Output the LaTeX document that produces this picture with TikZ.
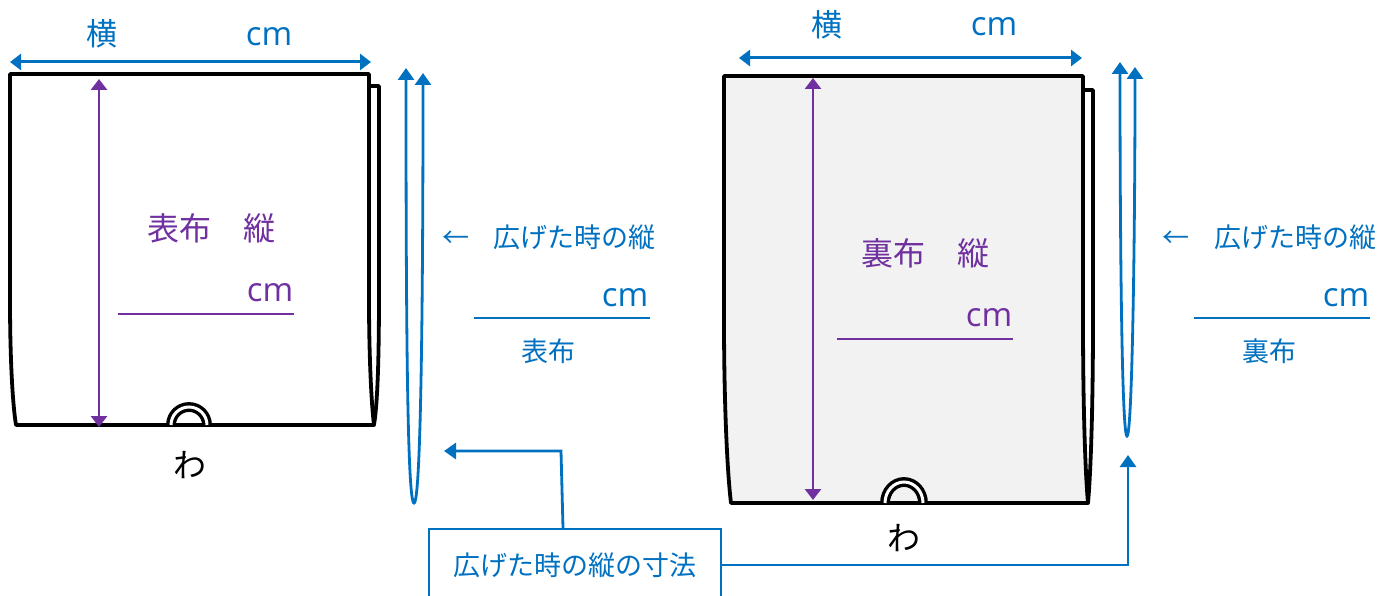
\documentclass[tikz,border=0pt]{standalone}
\usepackage{fontspec}
\setmainfont{Open Sans}
\newfontfamily\jpfont{Noto Sans CJK JP}
\usetikzlibrary{arrows.meta}
\definecolor{tagblue}{HTML}{0070C0}
\definecolor{tagpurple}{HTML}{7030A0}
\definecolor{backgray}{HTML}{F2F2F2}
\tikzset{
  bluetext/.style={text=tagblue,inner sep=0pt,font=\jpfont\fontsize{27}{27}\selectfont},
  purpletext/.style={text=tagpurple,inner sep=0pt,font=\jpfont\fontsize{32}{32}\selectfont},
  blueunit/.style={text=tagblue,inner sep=0pt,font=\fontsize{33}{33}\selectfont},
  purpleunit/.style={text=tagpurple,inner sep=0pt,font=\fontsize{33}{33}\selectfont},
  watext/.style={text=black,inner sep=0pt,font=\jpfont\fontsize{33}{33}\selectfont},
  bluearrow/.style={draw=tagblue,line width=2.8pt,-{Triangle[length=12pt,width=16pt]}},
  bluedouble/.style={draw=tagblue,line width=3pt,{Triangle[length=11pt,width=16pt]}-{Triangle[length=11pt,width=16pt]}},
  purpledouble/.style={draw=tagpurple,line width=2.8pt,{Triangle[length=11pt,width=16pt]}-{Triangle[length=11pt,width=16pt]}},
  bagline/.style={draw=black,line width=3.8pt,line join=round},
  waloop/.style={draw=black,line width=3.4pt,double=white,double distance=3pt},
  foldline/.style={draw=tagblue,line width=2.8pt,{Triangle[length=12pt,width=16pt]}-{Triangle[length=12pt,width=16pt]}},
  underbar/.style={line width=1.8pt}
}
\begin{document}
\begin{tikzpicture}[x=1pt,y=-1pt]
\useasboundingbox (0,0) rectangle (1392,596);
% left bag
\draw[bagline](369,86)--(379,86)--(379,290).. controls (379,350) and (378,400) ..(374,425);
\draw[bagline,fill=white](10,74)--(369,74)--(369,300).. controls (369,350) and (371,400) ..(374,425)--(16,425).. controls (12,400) and (10,350) ..(10,300)--cycle;
\draw[bluedouble](10,62)--(371,62);
\draw[purpledouble](99,79)--(99,427);
\draw[waloop](171,425) arc[start angle=180,end angle=360,x radius=18,y radius=18];
\node[watext](waleft) at (190,465){わ};
\node[bluetext,font=\jpfont\fontsize{31}{31}\selectfont](widthleft) at (102,34){横};
\node[blueunit](cmwidthleft) at (269,37){cm};
\node[purpletext](tateleft) at (211,228){表布　縦};
\node[purpleunit](cmtateleft) at (270,293){cm};
\draw[tagpurple,underbar](118,314)--(294,314);
% left fold
\draw[foldline](406,68).. controls (406,300) and (407,503) ..(414,503).. controls (421,503) and (423,300) ..(423,73);
\node[bluetext](openleft) at (549,237){←\hspace{25pt}広げた時の縦};
\node[blueunit](cmopenleft) at (625,298){cm};
\draw[tagblue,underbar](474,318)--(650,318);
\node[bluetext](clothleft) at (548,351){表布};
% right bag
\draw[bagline](1083,90)--(1093,90)--(1093,320).. controls (1093,400) and (1091,470) ..(1088,503);
\draw[bagline,fill=backgray](724,76)--(1083,76)--(1083,320).. controls (1083,400) and (1085,470) ..(1088,503)--(731,503).. controls (727,470) and (724,400) ..(724,320)--cycle;
\draw[bluedouble](739,58)--(1082,58);
\draw[purpledouble](813,78)--(813,500);
\draw[waloop](885,503) arc[start angle=180,end angle=360,x radius=19,y radius=21];
\node[watext](waright) at (904,538){わ};
\node[bluetext,font=\jpfont\fontsize{31}{31}\selectfont](widthright) at (827,25){横};
\node[blueunit](cmwidthright) at (994,27){cm};
\node[purpletext](tateright) at (925,253){裏布　縦};
\node[purpleunit](cmtateright) at (989,318){cm};
\draw[tagpurple,underbar](837,339)--(1013,339);
% right fold
\draw[foldline](1120,62).. controls (1120,250) and (1122,436) ..(1127,436).. controls (1132,436) and (1135,250) ..(1135,67);
\node[bluetext](openright) at (1269.5,237){←\hspace{25pt}広げた時の縦};
\node[blueunit](cmopenright) at (1346,298){cm};
\draw[tagblue,underbar](1194,318)--(1370,318);
\node[bluetext](clothright) at (1269,351){裏布};
% note box
\node[bluetext,draw=tagblue,line width=1.8pt,minimum width=292pt,minimum height=72pt](sizebox) at (575,565){広げた時の縦の寸法};
\coordinate(tipleft) at (444,451);
\coordinate(tipright) at (1128,455);
\draw[bluearrow](sizebox.north -| 563,529)--(561,451)--(tipleft);
\draw[bluearrow](sizebox.east)--(tipright |- sizebox.east)--(tipright);
\end{tikzpicture}
\end{document}
